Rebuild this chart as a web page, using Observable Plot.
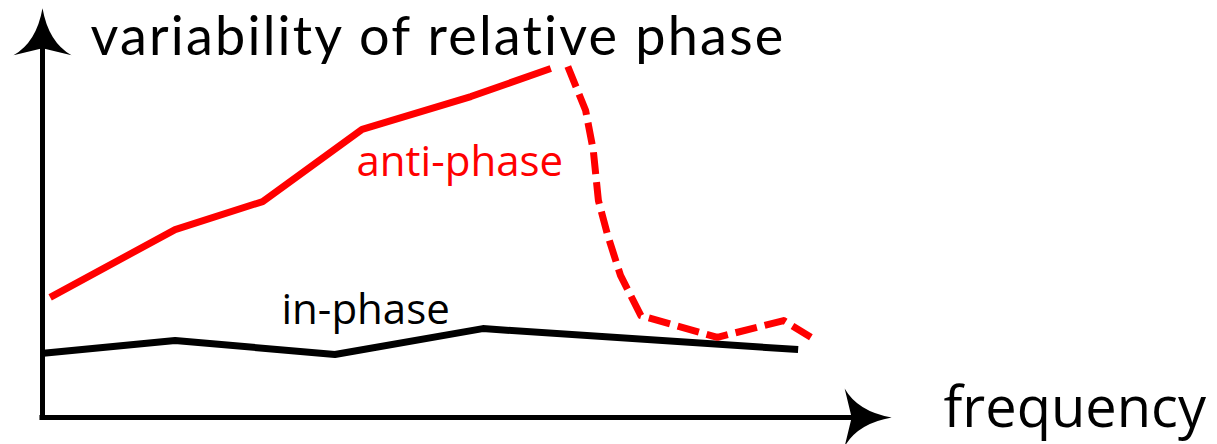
<!DOCTYPE html>
<html>
<head>
<meta charset="utf-8">
<script src="https://cdn.jsdelivr.net/npm/d3@7"></script>
<script src="https://cdn.jsdelivr.net/npm/@observablehq/plot@0.6"></script>
<style>
  html, body { margin: 0; padding: 0; background: #fff; }
  .ytitle text { letter-spacing: 2.2px; }
</style>
</head>
<body>
<div id="chart"></div>
<script>
// Anti-phase variability (solid, then dashed after the transition)
const antiSolidFreq = [0.09, 1.56, 2.59, 3.76, 5.04, 5.98];
const antiSolidVar  = [3.43, 5.37, 6.17, 8.23, 9.17, 9.97];
const antiDashFreq  = [6.18, 6.39, 6.48, 6.54, 6.65, 6.80, 7.04, 7.94, 8.72, 9.04];
const antiDashVar   = [10.03, 8.77, 7.63, 6.20, 5.20, 4.06, 2.91, 2.29, 2.77, 2.29];
// In-phase variability
const inFreq = [-0.02, 1.56, 3.44, 5.18, 8.89];
const inVar  = [1.83, 2.20, 1.80, 2.54, 1.94];
// Labels
const yLabel = "variability of relative phase";
const xLabel = "frequency";
const antiLabel = "anti-phase";
const inLabel = "in-phase";

const zip = (xs, ys) => xs.map((x, i) => ({x, y: ys[i]}));

// filled arrowhead symbol, tip at origin pointing up
const arrowHead = {
  draw(ctx) {
    ctx.moveTo(0, 0);
    ctx.quadraticCurveTo(6, 34, 29, 47);
    ctx.lineTo(0, 40);
    ctx.lineTo(-29, 47);
    ctx.quadraticCurveTo(-6, 34, 0, 0);
    ctx.closePath();
  }
};

const chart = Plot.plot({
  width: 1217,
  height: 444,
  margin: 0,
  x: {domain: [-42/85, (1217-42)/85], axis: null},
  y: {domain: [(417-444)/35, 417/35], axis: null},
  marks: [
    // axes
    Plot.ruleX([0], {y1: -0.07, y2: 10.6, stroke: "black", strokeWidth: 5}),
    Plot.ruleY([0], {x1: -0.03, x2: 9.6, stroke: "black", strokeWidth: 5}),
    Plot.dot([{x: 0, y: 11.69}], {x: "x", y: "y", symbol: arrowHead, fill: "black", stroke: "none"}),
    Plot.dot([{x: 9.99, y: 0}], {x: "x", y: "y", symbol: arrowHead, fill: "black", stroke: "none", rotate: 90}),
    // data
    Plot.line(zip(inFreq, inVar), {x: "x", y: "y", stroke: "black", strokeWidth: 7, strokeLinecap: "butt", strokeLinejoin: "miter"}),
    Plot.line(zip(antiSolidFreq, antiSolidVar), {x: "x", y: "y", stroke: "#ff0000", strokeWidth: 7, strokeLinecap: "butt", strokeLinejoin: "miter"}),
    Plot.line(zip(antiDashFreq, antiDashVar), {x: "x", y: "y", stroke: "#ff0000", strokeWidth: 7, strokeLinecap: "butt", strokeLinejoin: "round", strokeDasharray: "22,8"}),
    // labels
    Plot.text([yLabel], {x: () => (90-42)/85, y: () => (417-54)/35, text: d => d, textAnchor: "start", lineAnchor: "bottom", fontSize: 54, fontFamily: "Lato", fill: "black", className: "ytitle"}),
    Plot.text([xLabel], {x: () => (943-42)/85, y: () => (417-426)/35, text: d => d, textAnchor: "start", lineAnchor: "bottom", fontSize: 56, fontFamily: "Open Sans", fill: "black"}),
    Plot.text([antiLabel], {x: () => (356-42)/85, y: () => (417-175)/35, text: d => d, textAnchor: "start", lineAnchor: "bottom", fontSize: 42, fontFamily: "Open Sans", fill: "#ff0000"}),
    Plot.text([inLabel], {x: () => (281-42)/85, y: () => (417-323)/35, text: d => d, textAnchor: "start", lineAnchor: "bottom", fontSize: 42, fontFamily: "Open Sans", fill: "black"})
  ]
});
document.getElementById("chart").appendChild(chart);
</script>
</body>
</html>
